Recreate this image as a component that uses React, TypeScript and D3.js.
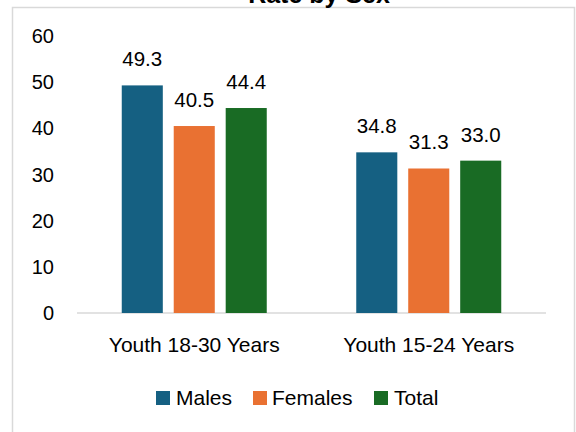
import React from "react";
import * as d3 from "d3";

const categories = ["Youth 18-30 Years", "Youth 15-24 Years"];
const seriesNames = ["Males", "Females", "Total"];
const males = [49.3, 34.8];
const females = [40.5, 31.3];
const total = [44.4, 33.0];
const yTicks = [0, 10, 20, 30, 40, 50, 60];
const colors = ["#156082", "#E97132", "#196B24"];

const W = 576;
const H = 432;
const plotLeft = 77;
const plotRight = 546;
const plotTop = 36;
const plotBottom = 313;

export default function App() {
  const seriesValues = [males, females, total];
  const x0 = d3.scaleBand<string>().domain(categories).range([plotLeft, plotRight]).paddingInner(0).paddingOuter(0);
  const groupW = 145;
  const x1 = d3.scaleBand<string>().domain(seriesNames).range([0, groupW]).paddingInner(0.21).paddingOuter(0);
  const y = d3.scaleLinear().domain([0, 60]).range([plotBottom, plotTop]);
  const font = "'Liberation Sans', Arial, sans-serif";

  const legendItems = [
    { name: "Males", sx: 156, tx: 176 },
    { name: "Females", sx: 253, tx: 272 },
    { name: "Total", sx: 374, tx: 394 },
  ];

  return (
    <div style={{ position: "fixed", left: 0, top: 0 }}>
      <svg width={W} height={H} style={{ display: "block", background: "#fff" }}>
        <rect x={12.5} y={7.5} width={562} height={440} fill="#fff" stroke="#d9d9d9" strokeWidth={1.5} />
        <text x={319} y={3} textAnchor="middle" fontFamily={font} fontWeight="bold" fontSize={25} fill="#000">
          Rate by Sex
        </text>
        {yTicks.map((t) => (
          <text key={t} x={54} y={y(t)} dy="0.35em" textAnchor="end" fontFamily={font} fontSize={20} fill="#000">
            {t}
          </text>
        ))}
        <line x1={plotLeft} x2={plotRight} y1={plotBottom} y2={plotBottom} stroke="#d9d9d9" strokeWidth={1.5} />
        {categories.map((c, ci) => {
          const gx = (x0(c) as number) + (x0.bandwidth() - groupW) / 2;
          return (
            <g key={c}>
              {seriesNames.map((s, si) => {
                const v = seriesValues[si][ci];
                const bx = gx + (x1(s) as number);
                return (
                  <g key={s}>
                    <rect x={bx} y={y(v)} width={x1.bandwidth()} height={plotBottom - y(v)} fill={colors[si]} />
                    <text x={bx + x1.bandwidth() / 2} y={y(v) - 19} textAnchor="middle" fontFamily={font} fontSize={20.5} fill="#000">
                      {v.toFixed(1)}
                    </text>
                  </g>
                );
              })}
              <text x={(x0(c) as number) + x0.bandwidth() / 2} y={345} dy="0.35em" textAnchor="middle" fontFamily={font} fontSize={21} fill="#000">
                {c}
              </text>
            </g>
          );
        })}
        {legendItems.map((l, i) => (
          <g key={l.name}>
            <rect x={l.sx} y={391} width={14} height={14} fill={colors[i]} />
            <text x={l.tx} y={398} dy="0.35em" fontFamily={font} fontSize={21} fill="#000">
              {l.name}
            </text>
          </g>
        ))}
      </svg>
    </div>
  );
}
